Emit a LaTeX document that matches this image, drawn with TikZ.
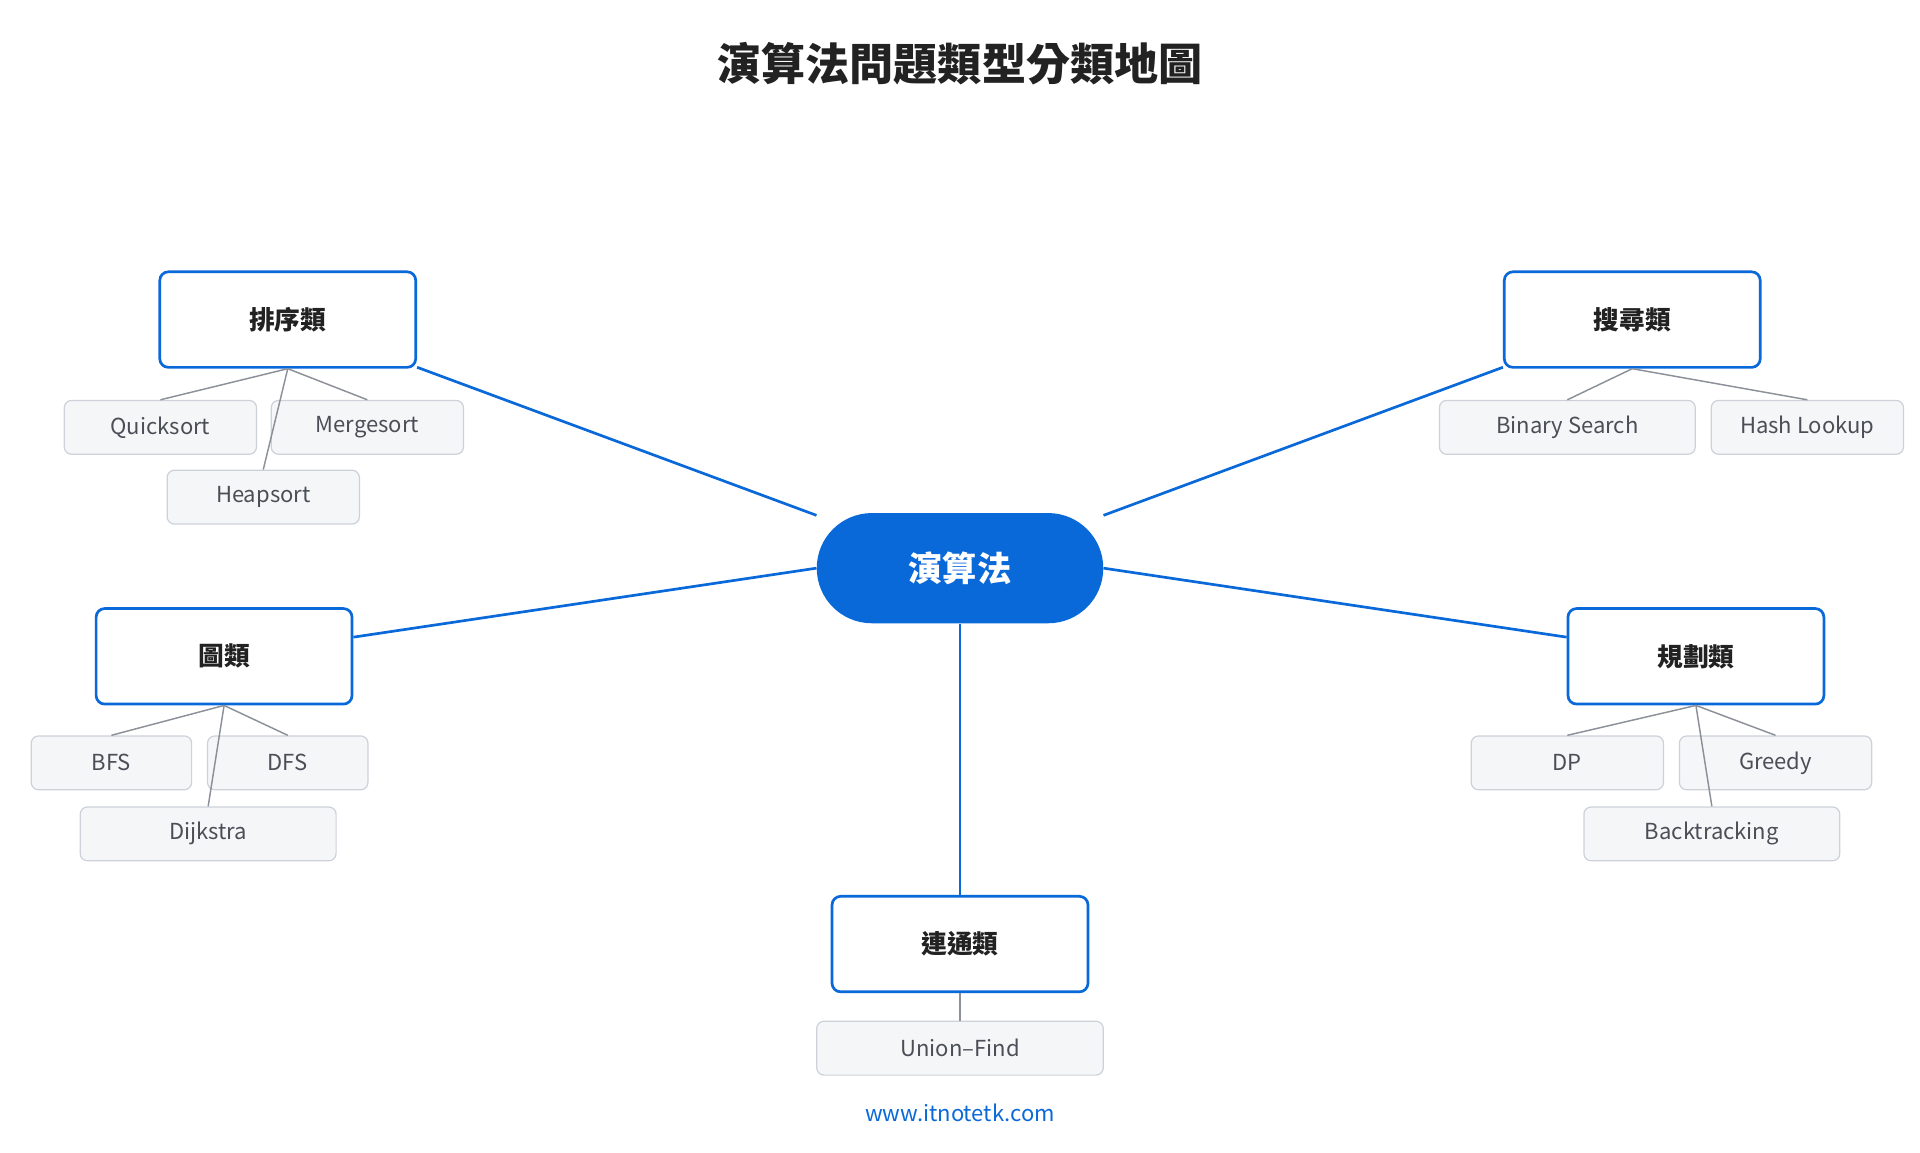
\documentclass[tikz,border=0pt]{standalone}
\usepackage{fontspec}
\setmainfont{Noto Sans CJK TC}
\definecolor{mblue}{HTML}{0A69D9}
\definecolor{leaffill}{HTML}{F5F6F8}
\definecolor{leafdraw}{HTML}{CDD2DA}
\definecolor{leaftext}{HTML}{4A4F57}
\definecolor{leafline}{HTML}{8C9199}
\definecolor{titletext}{HTML}{222222}
\begin{document}
\begin{tikzpicture}[x=1pt,y=-1pt,
  branch/.style={draw=mblue,line width=2.2pt,rounded corners=7pt,fill=white,minimum width=209pt,minimum height=78pt,font=\fontsize{21}{24}\selectfont\bfseries,text=titletext},
  leaf/.style={draw=leafdraw,line width=1pt,rounded corners=6pt,fill=leaffill,minimum height=44pt,font=\fontsize{18}{22}\selectfont,text=leaftext},
  mainline/.style={draw=mblue,line width=2.2pt},
  leafl/.style={draw=leafline,line width=1.2pt}]
\useasboundingbox (0,0) rectangle (1568,941);
\node[font=\fontsize{36}{42}\selectfont\bfseries,text=titletext] (title) at (784,52) {演算法問題類型分類地圖};
% leaf connectors first
\node[branch] (sort) at (235,261) {排序類};
\node[branch] (search) at (1333,261) {搜尋類};
\node[branch] (graph) at (183,536) {圖類};
\node[branch] (plan) at (1385,536) {規劃類};
\node[branch] (conn) at (784,771) {連通類};
\node[leaf,minimum width=157pt] (qs) at (131,349) {Quicksort};
\node[leaf,minimum width=157pt] (ms) at (300,349) {Mergesort};
\node[leaf,minimum width=157pt] (hs) at (215,406) {Heapsort};
\node[leaf,minimum width=209pt] (bs) at (1280,349) {Binary Search};
\node[leaf,minimum width=157pt] (hl) at (1476,349) {Hash Lookup};
\node[leaf,minimum width=131pt] (bfs) at (91,623) {BFS};
\node[leaf,minimum width=131pt] (dfs) at (235,623) {DFS};
\node[leaf,minimum width=209pt] (dij) at (170,681) {Dijkstra};
\node[leaf,minimum width=157pt] (dp) at (1280,623) {DP};
\node[leaf,minimum width=157pt] (gr) at (1450,623) {Greedy};
\node[leaf,minimum width=209pt] (bt) at (1398,681) {Backtracking};
\node[leaf,minimum width=234pt] (uf) at (784,856) {Union–Find};
\foreach \b/\l in {sort/qs,sort/ms,sort/hs,search/bs,search/hl,graph/bfs,graph/dfs,graph/dij,plan/dp,plan/gr,plan/bt,conn/uf}
  \draw[leafl] (\b.south) -- (\l.north);
\node[fill=mblue,rounded corners=45pt,minimum width=234pt,minimum height=90pt,text=white,font=\fontsize{28}{32}\selectfont\bfseries] (root) at (784,464) {演算法};
\draw[mainline] (root) -- (sort);
\draw[mainline] (root) -- (search);
\draw[mainline] (root.west) -- (graph);
\draw[mainline] (root.east) -- (plan);
\draw[mainline] (root) -- (conn);
\node[text=mblue,font=\fontsize{18}{22}\selectfont] (foot) at (784,909) {www.itnotetk.com};
\end{tikzpicture}
\end{document}
